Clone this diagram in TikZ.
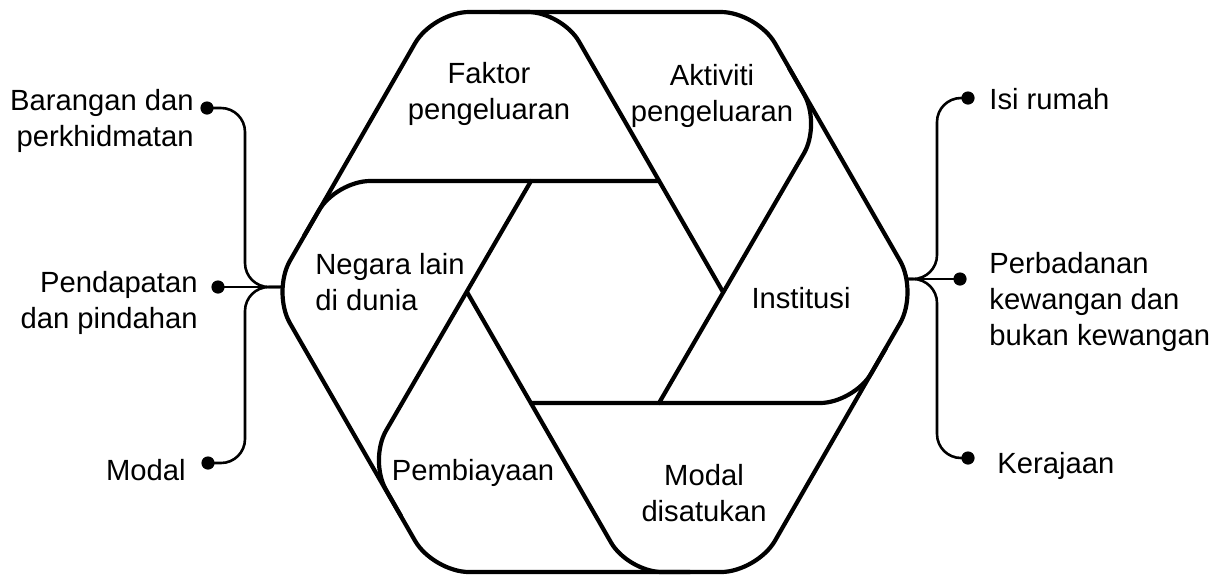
\documentclass[tikz,border=0pt]{standalone}
\usepackage{fontspec}
\setmainfont{Liberation Sans}
\begin{document}
\begin{tikzpicture}[x=0.5pt,y=-0.5pt,
  hexline/.style={line width=2.1pt,line join=round,line cap=round},
  spoke/.style={hexline,rounded corners=17pt},
  brk/.style={line width=1.3pt,rounded corners=12pt},
  dotmark/.style={circle,fill=black,inner sep=0pt,minimum size=6.6pt},
  lbl/.style={inner sep=0pt,font=\fontsize{14.6}{18}\selectfont}]
\useasboundingbox (0,0) rectangle (1220,575);
% outer hexagon vertices
\coordinate (TR) at (757,12);
\coordinate (R)  at (918,292);
\coordinate (BR) at (757,572);
\coordinate (BL) at (433,572);
\coordinate (L)  at (272,292);
\coordinate (TL) at (433,12);
\coordinate (Tm) at (595,12);
% inner hexagon vertices
\coordinate (iR)  at (723,292);
\coordinate (iTR) at (659,181);
\coordinate (iTL) at (531,181);
\coordinate (iL)  at (467,292);
\coordinate (iBL) at (531,403);
\coordinate (iBR) at (659,403);
% spoke ends on the outer hexagon
\coordinate (E1) at (336,181);
\coordinate (E2) at (562,12);
\coordinate (E3) at (821,124);
\coordinate (E4) at (854,403);
\coordinate (E5) at (628,572);
\coordinate (E6) at (369,460);
\coordinate (F1) at (304,236);
\coordinate (F2) at (500,12);
\coordinate (F3) at (789,68);
\coordinate (F4) at (886,348);
\coordinate (F5) at (690,572);
\coordinate (F6) at (401,516);
% outer hexagon
\draw[hexline,rounded corners=18pt] (Tm) -- (TR) -- (R) -- (BR) -- (BL) -- (L) -- (TL) -- cycle;
% spokes
\draw[spoke] (iTR) -- (E1) -- (F1);
\draw[spoke] (iR)  -- (E2) -- (F2);
\draw[spoke] (iBR) -- (E3) -- (F3);
\draw[spoke] (iBL) -- (E4) -- (F4);
\draw[spoke] (iL)  -- (E5) -- (F5);
\draw[spoke] (iTL) -- (E6) -- (F6);
% blade labels
\node[lbl,align=center] (faktor) at (489,94) {Faktor\\pengeluaran};
\node[lbl,align=center] (aktiviti) at (712,96) {Aktiviti\\pengeluaran};
\node[lbl,align=left,anchor=west] (negara) at (315,282) {Negara lain\\di dunia};
\node[lbl] (institusi) at (801,298) {Institusi};
\node[lbl] (pembiayaan) at (473,473) {Pembiayaan};
\node[lbl,align=center] (modalsatu) at (704,493) {Modal\\disatukan};
% left bracket
\coordinate (jl) at (281,287);
\node[dotmark] (d1) at (207,108) {};
\node[dotmark] (d2) at (218,287) {};
\node[dotmark] (d3) at (208,463) {};
\draw[brk] (d1.center) -| (245,287) -- (jl);
\draw[brk] (d3.center) -| (245,287) -- (jl);
\draw[line width=1.3pt] (d2.center) -- (jl);
\node[lbl,align=right,anchor=east] (barangan) at (194,121) {Barangan dan\\perkhidmatan};
\node[lbl,align=right,anchor=east] (pendapatan) at (198,303) {Pendapatan\\dan pindahan};
\node[lbl,anchor=east] (modal) at (186,470) {Modal};
% right bracket
\coordinate (jr) at (907,279);
\node[dotmark] (r1) at (968,98) {};
\node[dotmark] (r2) at (960,279) {};
\node[dotmark] (r3) at (968,458) {};
\draw[brk] (r1.center) -| (937,279) -- (jr);
\draw[brk] (r3.center) -| (937,279) -- (jr);
\draw[line width=1.3pt] (r2.center) -- (jr);
\node[lbl,anchor=west] (isi) at (989,99) {Isi rumah};
\node[lbl,align=left,anchor=west] (perbadanan) at (989,302) {Perbadanan\\kewangan dan\\bukan kewangan};
\node[lbl,anchor=west] (kerajaan) at (997,466) {Kerajaan};
\end{tikzpicture}
\end{document}
